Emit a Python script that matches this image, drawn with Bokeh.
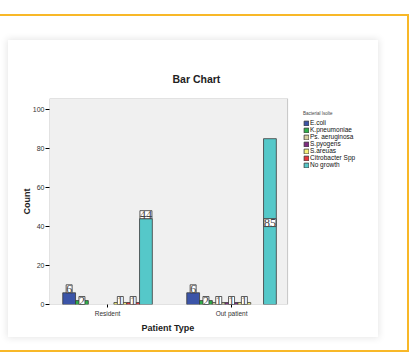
from bokeh.plotting import figure
from bokeh.models import (Range1d, FixedTicker, ColumnDataSource, LabelSet, Legend, LegendItem,
                          Title, BoxAnnotation)
from bokeh.layouts import column
from bokeh.embed import file_html
from bokeh.resources import INLINE

# ---- data ----
patient_types = ["Resident", "Out patient"]
isolates = ["E.coli", "K.pneumoniae", "Ps. aeruginosa", "S.pyogens", "S.areuas", "Citrobacter Spp", "No growth"]
resident = [6, 2, 0, 0, 1, 1, 44]
out_patient = [6, 2, 1, 1, 1, 0, 85]
colors = ["#3b54a8", "#2fb04a", "#d6d0a0", "#7f2a80", "#f7f07a", "#e8353b", "#55c8c9"]
y_ticks = [0, 20, 40, 60, 80, 100]

FONT = "Liberation Sans"
bw = 0.1032
X0, X1, XEND = -0.468, 1.452, 2.185   # plot-area left/right, frame end (legend room)

p = figure(x_range=Range1d(X0, XEND), y_range=Range1d(0, 105.6),
           width=370, height=297,
           min_border_left=41, min_border_right=0, min_border_top=58, min_border_bottom=33,
           output_backend="svg", toolbar_location=None)

p.background_fill_color = "white"
p.border_fill_color = "white"
p.outline_line_color = None
p.xgrid.visible = False
p.ygrid.visible = False

# grey plot area
area = BoxAnnotation(left=X0, right=X1, fill_color="#f0f0f0", fill_alpha=1,
                     line_color="#555555", line_width=1, level="underlay")
p.add_layout(area)

ttl = Title(text="Bar Chart", align="left", offset=123, standoff=28,
            text_font=FONT, text_font_size="10.5px", text_font_style="bold", text_color="#222222")
p.add_layout(ttl, "above")

values_by_group = [resident, out_patient]
items = []
lab_x, lab_y, lab_t = [], [], []
for k, name in enumerate(isolates):
    xs, tops = [], []
    for g, vals in enumerate(values_by_group):
        v = vals[k]
        if v > 0:
            xs.append(g + (k - 3) * bw)
            tops.append(v)
    src = ColumnDataSource(dict(x=xs, top=tops))
    r = p.vbar(x="x", top="top", width=bw, bottom=0, source=src,
               fill_color=colors[k], line_color="#3a3a3a", line_width=0.8)
    items.append(LegendItem(label=name, renderers=[r]))
    for xx, v in zip(xs, tops):
        lab_x.append(xx)
        if v > 60:
            lab_y.append(v * 0.47)
        elif v < 5:
            lab_y.append(0)
        else:
            lab_y.append(v)
        lab_t.append(str(v))

lsrc = ColumnDataSource(dict(x=lab_x, y=lab_y, t=lab_t))
labels = LabelSet(x="x", y="y", text="t", source=lsrc, text_align="center", text_baseline="bottom",
                  text_font=FONT, text_font_size="12px", text_color="#444444",
                  background_fill_color="white", border_line_color="#333333", border_line_width=0.8,
                  y_offset=0)
p.add_layout(labels)

legend = Legend(items=items, location=(254, 136), title="Bacterial Isolte",
                title_text_font=FONT, title_text_font_size="4.5px", title_text_font_style="normal",
                title_text_color="#444444", title_standoff=3,
                label_text_font=FONT, label_text_font_size="6.5px", label_text_color="#111111",
                glyph_width=6, glyph_height=6, label_height=6, label_standoff=1, spacing=0,
                padding=2, margin=0, border_line_color=None, background_fill_alpha=0)
p.add_layout(legend)

# axes
p.yaxis.ticker = FixedTicker(ticks=y_ticks)
p.yaxis.minor_tick_line_color = None
p.yaxis.major_tick_out = 4
p.yaxis.major_tick_in = 0
p.yaxis.axis_line_color = None
p.yaxis.major_label_standoff = 1
p.yaxis.major_label_text_font = FONT
p.yaxis.major_label_text_font_size = "7px"
p.yaxis.major_label_text_color = "#333333"
p.yaxis.axis_label = "Count"
p.yaxis.axis_label_text_font = FONT
p.yaxis.axis_label_text_font_size = "9px"
p.yaxis.axis_label_text_font_style = "bold"
p.yaxis.axis_label_text_color = "#222222"
p.yaxis.axis_label_standoff = -2

p.xaxis.ticker = FixedTicker(ticks=[0, 1])
p.xaxis.major_label_overrides = {i: t for i, t in enumerate(patient_types)}
p.xaxis.minor_tick_line_color = None
p.xaxis.major_tick_out = 3
p.xaxis.major_tick_in = 0
p.xaxis.axis_line_color = None
p.xaxis.major_label_standoff = 2
p.xaxis.major_label_text_font = FONT
p.xaxis.major_label_text_font_size = "6.5px"
p.xaxis.major_label_text_color = "#333333"

xt = Title(text="Patient Type", align="left", offset=92, standoff=2,
           text_font=FONT, text_font_size="9px", text_font_style="bold", text_color="#222222")
p.add_layout(xt, "below")

p.margin = (24, 0, 13, 8)
p.styles = {"box-shadow": "0 0 7px 1px rgba(0,0,0,0.10)", "background": "white"}

root = column(p, width=409, height=338, margin=(14, 0, 0, 0),
              styles={"border-top": "2px solid #f8b828", "border-right": "2px solid #f8b828",
                      "border-bottom": "2px solid #f8b828", "box-sizing": "border-box",
                      "background": "white"})

open("out.html", "w").write(file_html(root, INLINE))
